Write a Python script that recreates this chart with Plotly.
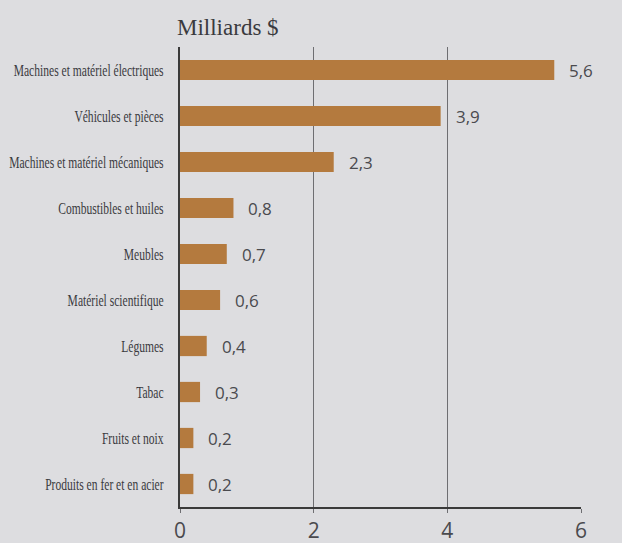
import plotly.graph_objects as go

categories = [
    "Machines et matériel électriques",
    "Véhicules et pièces",
    "Machines et matériel mécaniques",
    "Combustibles et huiles",
    "Meubles",
    "Matériel scientifique",
    "Légumes",
    "Tabac",
    "Fruits et noix",
    "Produits en fer et en acier",
]
values = [5.6, 3.9, 2.3, 0.8, 0.7, 0.6, 0.4, 0.3, 0.2, 0.2]
value_labels = ["5,6", "3,9", "2,3", "0,8", "0,7", "0,6", "0,4", "0,3", "0,2", "0,2"]
x_ticks = [0, 2, 4, 6]
title_text = "Milliards $"

bg = "#dddde0"
bar_color = "#b47a3e"

fig = go.Figure(
    go.Bar(
        x=values,
        y=categories,
        orientation="h",
        marker=dict(color=bar_color, line=dict(width=0)),
        width=0.44,
        hoverinfo="skip",
    )
)

for v, c, lab in zip(values, categories, value_labels):
    fig.add_annotation(
        x=v, y=c, text=lab, showarrow=False, xanchor="left", xshift=13,
        font=dict(family="Open Sans, Lato, sans-serif", size=17, color="#4a4a4e"),
    )

fig.add_annotation(
    x=0, y=1, xref="paper", yref="paper", text=title_text, showarrow=False,
    xanchor="left", yanchor="bottom", yshift=5, xshift=-5,
    font=dict(family="Liberation Serif, serif", size=23, color="#3a3a3e"),
)

fig.update_layout(
    width=622, height=543,
    margin=dict(l=180, r=41, t=47, b=36),
    paper_bgcolor=bg, plot_bgcolor=bg,
    showlegend=False,
    xaxis=dict(
        range=[0, 6], tickvals=x_ticks, ticktext=[str(t) for t in x_ticks],
        showgrid=True, gridcolor="#6e6e72", gridwidth=1,
        showline=True, linecolor="#3a3a3a", linewidth=2,
        ticks="outside", ticklen=4, tickcolor="#6e6e72",
        tickfont=dict(family="Open Sans, Lato, sans-serif", size=21, color="#4a4a4e"),
        zeroline=False, fixedrange=True, automargin=False,
    ),
    yaxis=dict(
        categoryorder="array", categoryarray=categories[::-1],
        showline=True, linecolor="#3a3a3a", linewidth=2,
        showgrid=False, ticks="", ticklabelstandoff=11,
        tickfont=dict(family="Liberation Serif, serif", size=17, color="#3a3a3e"),
        zeroline=False, fixedrange=True, automargin=False,
    ),
)

post = """
document.body.style.margin='0';
document.body.style.background='%s';
(function(){
  var gd = document.getElementById('{plot_id}');
  function squeeze(){
    var ts = gd.querySelectorAll('g.ytick text');
    ts.forEach(function(t){
      if(!t.dataset.natw){ t.dataset.natw = t.getComputedTextLength(); }
      t.setAttribute('textLength', (parseFloat(t.dataset.natw)*0.68).toFixed(1));
      t.setAttribute('lengthAdjust', 'spacingAndGlyphs');
    });
  }
  squeeze();
  if(gd.on){ gd.on('plotly_afterplot', squeeze); }
  setTimeout(squeeze, 50);
  setTimeout(squeeze, 300);
})();
""" % bg

fig.write_html("out.html", config={"displayModeBar": False}, post_script=post)
